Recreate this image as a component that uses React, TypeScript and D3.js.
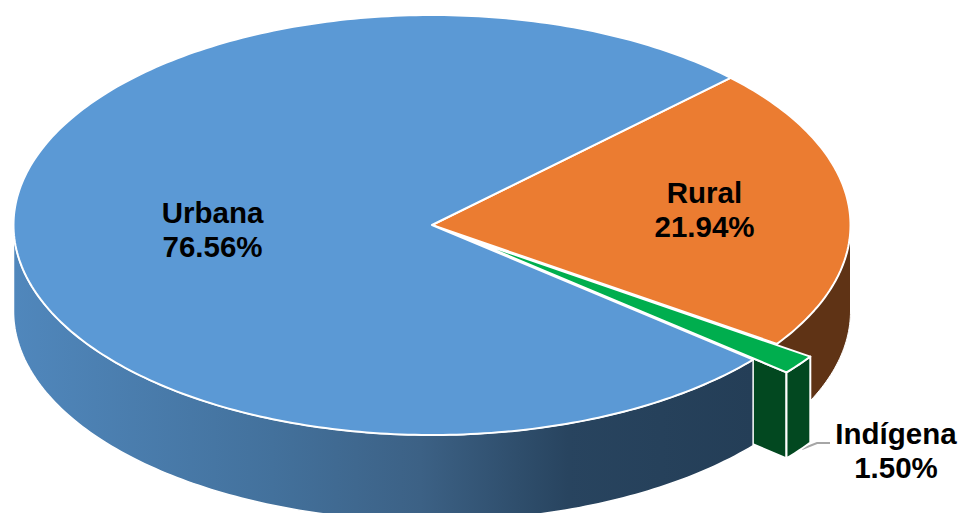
import React from "react";
import * as d3 from "d3";

const categories = ["Rural", "Indígena", "Urbana"];
const shares = [21.94, 1.5, 76.56];
const shareLabels = ["21.94%", "1.50%", "76.56%"];

const topColors = ["#EB7C31", "#00AE4E", "#5B99D5"];
const wallColors = ["#5F3315", "#024820", "url(#blueWall)"];
const explode = [0, 0.1, 0];
const labelAnchors: [number, number][] = [[704.5, 202.5], [896, 443.5], [212.5, 222.5]];

const W = 961, H = 513;
const depth = 86;
const fontSize = 29.5;
const lineGap = 34;

const sx = d3.scaleLinear().domain([-1, 1]).range([13.5, 850.5]);
const sy = d3.scaleLinear().domain([-1, 1]).range([15, 435]);

const pie = d3.pie<number>().sort(null).value((d) => d).startAngle((45.5 * Math.PI) / 180).endAngle(((45.5 + 360) * Math.PI) / 180);
const slices = pie(shares);

type P = [number, number];
const line = d3.line<P>();

function unit(a: number): P {
  return [Math.sin(a), -Math.cos(a)];
}
function px(a: number, r: number, off: P, dy = 0): P {
  const [u, v] = unit(a);
  return [sx(u * r + off[0]), sy(v * r + off[1]) + dy];
}
function arcPoints(a0: number, a1: number, off: P, dy = 0): P[] {
  const n = Math.max(2, Math.ceil(Math.abs(a1 - a0) * 60));
  return d3.range(n + 1).map((i) => px(a0 + ((a1 - a0) * i) / n, 1, off, dy));
}

const items = slices.map((s, i) => {
  const mid = (s.startAngle + s.endAngle) / 2;
  const [mu, mv] = unit(mid);
  const off: P = [mu * explode[i], mv * explode[i]];
  const apex: P = [sx(off[0]), sy(off[1])];
  return { s, i, off, apex };
});

// Top face of a slice.
function topPath(it: (typeof items)[number]) {
  return line([it.apex, ...arcPoints(it.s.startAngle, it.s.endAngle, it.off)])! + "Z";
}
// Outer wall, limited to the part that faces the viewer (angles between 90° and 270°).
function wallPath(it: (typeof items)[number]) {
  const lo = Math.PI / 2, hi = (3 * Math.PI) / 2;
  const a0 = Math.max(it.s.startAngle, lo), a1 = Math.min(it.s.endAngle, hi);
  if (a1 <= a0) return "";
  const upper = arcPoints(a0, a1, it.off);
  const lower = arcPoints(a1, a0, it.off, depth);
  return line([...upper, ...lower])! + "Z";
}
// Cut face on the closing edge of an exploded slice.
function cutPath(it: (typeof items)[number]) {
  const e = px(it.s.endAngle, 1, it.off);
  return line([it.apex, e, [e[0], e[1] + depth], [it.apex[0], it.apex[1] + depth]])! + "Z";
}

const [rural, indigena, urbana] = items;
const leader: P[] = [[802, 449], [817, 443], [830, 443]];

export default function App() {
  return (
    <svg width={W} height={H} viewBox={`0 0 ${W} ${H}`} style={{ position: "absolute", left: 0, top: 0, background: "#fff" }}>
      <defs>
        <linearGradient id="blueWall" gradientUnits="userSpaceOnUse" x1={14} x2={753} y1={0} y2={0}>
          <stop offset="0" stopColor="#5087BC" />
          <stop offset="0.35" stopColor="#43719C" />
          <stop offset="0.55" stopColor="#3C6185" />
          <stop offset="0.75" stopColor="#28445F" />
          <stop offset="1" stopColor="#243E57" />
        </linearGradient>
      </defs>
      <path d={wallPath(rural)} fill={wallColors[0]} stroke="#fff" strokeWidth={1} />
      <polyline points={leader.join(" ")} fill="none" stroke="#A6A6A6" strokeWidth={2} />
      <path d={cutPath(indigena)} fill={wallColors[1]} stroke="#fff" strokeWidth={2} strokeLinejoin="round" />
      <path d={wallPath(indigena)} fill={wallColors[1]} stroke="#fff" strokeWidth={2} strokeLinejoin="round" />
      <path d={wallPath(urbana)} fill={wallColors[2]} stroke="#fff" strokeWidth={1.5} strokeLinejoin="round" />
      {[rural, urbana, indigena].map((it) => (
        <path key={it.i} d={topPath(it)} fill={topColors[it.i]} stroke="#fff" strokeWidth={2} strokeLinejoin="round" />
      ))}
      {categories.map((c, i) => (
        <text key={c} x={labelAnchors[i][0]} y={labelAnchors[i][1]} textAnchor="middle" fontFamily="'Liberation Sans', Arial, sans-serif" fontWeight="bold" fontSize={fontSize} fill="#000">
          <tspan x={labelAnchors[i][0]}>{c}</tspan>
          <tspan x={labelAnchors[i][0]} dy={lineGap}>{shareLabels[i]}</tspan>
        </text>
      ))}
    </svg>
  );
}
